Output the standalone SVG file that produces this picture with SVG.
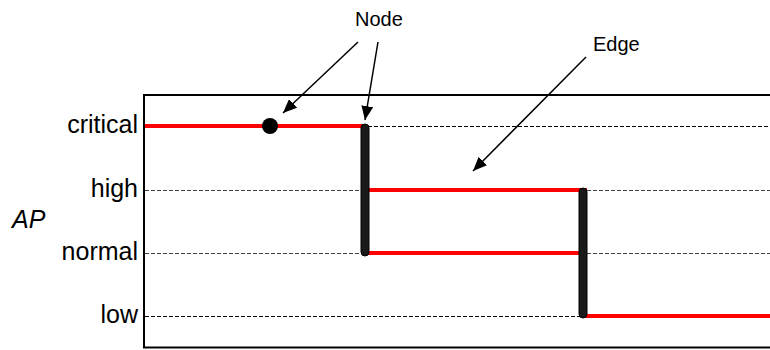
<svg xmlns="http://www.w3.org/2000/svg" width="770" height="350" viewBox="0 0 770 350">
<style>
  .lbl { font-family: "Liberation Sans", Arial, sans-serif; font-size: 25px; fill: #000; }
  .ann { font-family: "Liberation Sans", Arial, sans-serif; font-size: 20px; fill: #000; }
  .grid { stroke: #000; stroke-width: 1; stroke-dasharray: 4 2; fill: none; }
  .grid2 { stroke: #444; stroke-width: 1; stroke-dasharray: 4 2; fill: none; }
  .edge { stroke: #ff0000; stroke-width: 4; fill: none; }
  .bar { fill: #1a1a1a; stroke: #000; stroke-width: 1; }
  .arrow { stroke: #000; stroke-width: 1.5; fill: none; marker-end: url(#ah); }
</style>
<defs>
  <marker id="ah" viewBox="0 0 14 12" refX="14" refY="6" markerWidth="14" markerHeight="12" markerUnits="userSpaceOnUse" orient="auto">
    <path d="M0,0 L14,6 L0,12 z" fill="#000"/>
  </marker>
</defs>
<rect width="770" height="350" fill="#fff"/>
<g id="axes">
  <path d="M770,95 H144 V347.5 H770" fill="none" stroke="#000" stroke-width="2"/>
  <text class="lbl" x="138" y="133" text-anchor="end">critical</text>
  <text class="lbl" x="138" y="197" text-anchor="end">high</text>
  <text class="lbl" x="138" y="260" text-anchor="end">normal</text>
  <text class="lbl" x="138" y="323" text-anchor="end">low</text>
  <text class="lbl" x="12" y="228" font-style="italic">AP</text>
</g>
<g id="gridlines">
  <line class="grid" x1="368" y1="126.5" x2="770" y2="126.5"/>
  <line class="grid2" x1="145" y1="190.5" x2="361" y2="190.5"/>
  <line class="grid2" x1="587" y1="190.5" x2="770" y2="190.5"/>
  <line class="grid2" x1="145" y1="253.5" x2="361" y2="253.5"/>
  <line class="grid2" x1="587" y1="253.5" x2="770" y2="253.5"/>
  <line class="grid" x1="145" y1="316.5" x2="580" y2="316.5"/>
</g>
<g id="connectors">
  <line class="edge" x1="145" y1="126" x2="363" y2="126"/>
  <line class="edge" x1="369" y1="190" x2="587" y2="190"/>
  <line class="edge" x1="363" y1="253" x2="580" y2="253"/>
  <line class="edge" x1="583" y1="316" x2="770" y2="316"/>
</g>
<g id="node-dot">
  <circle cx="270" cy="126" r="8" fill="#000"/>
</g>
<g id="node-bar1">
  <rect class="bar" x="361" y="124" width="8" height="132" rx="4"/>
</g>
<g id="node-bar2">
  <rect class="bar" x="579" y="188" width="8" height="130" rx="4"/>
</g>
<g id="annotations">
  <text class="ann" x="355" y="26">Node</text>
  <text class="ann" x="593" y="51">Edge</text>
  <line class="arrow" x1="358" y1="42" x2="283" y2="113"/>
  <line class="arrow" x1="378" y1="42" x2="365" y2="120"/>
  <line class="arrow" x1="586" y1="57" x2="473" y2="171"/>
</g>
</svg>
